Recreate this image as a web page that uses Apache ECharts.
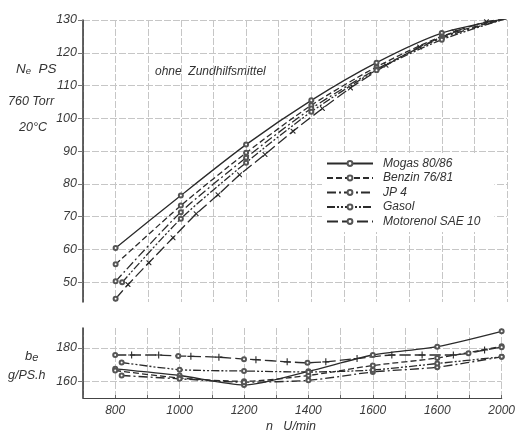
<!DOCTYPE html>
<html>
<head>
<meta charset="utf-8">
<script src="https://cdn.jsdelivr.net/npm/echarts@6/dist/echarts.min.js"></script>
<style>
  html, body { margin: 0; padding: 0; background: #fff; }
  #chart { width: 518px; height: 430px; }
</style>
</head>
<body>
<div id="chart"></div>
<script>
// --- data ---
const seriesNames = ['Mogas 80/86', 'Benzin 76/81', 'JP 4', 'Gasol', 'Motorenol SAE 10']

// upper panel: effective power Ne (PS)
const rpmUpper = [800, 1000, 1200, 1400, 1600, 1800, 2000]
const mogasNe = [60.5, 76.5, 92, 105.5, 117, 126, 130.5]
const benzinNe = [55.5, 73.4, 89.5, 104, 115.7, 125, 130.5]
const jp4Ne = [50.3, 71.4, 88, 103, 115, 124.5, 130.5]
const gasolRpmUpper = [820, 1000, 1200, 1400, 1600, 1800, 2000]
const gasolNe = [50, 69.4, 86.5, 102, 114.7, 124, 130.5]
const motorRpmUpper = [800, 838, 902, 976, 1047, 1114, 1180, 1258, 1344, 1434, 1520, 1629, 1732, 1838, 1937, 2000]
const motorNe = [45, 49.3, 56, 63.6, 70.9, 76.7, 82.8, 89, 96.1, 103, 109.3, 116.2, 121.8, 126.4, 129.5, 130.5]

// lower panel: specific consumption be (g/PS h)
const rpmLower = [800, 1000, 1200, 1400, 1600, 1800, 2000]
const mogasBe = [167.5, 163.5, 157.8, 166, 175.8, 180.8, 190]
const benzinBe = [166.5, 162, 160, 163.5, 169.5, 174, 181]
const jp4RpmLower = [820, 1000, 1200, 1400, 1600, 1800, 2000]
const jp4Be = [163.5, 161.5, 159.5, 160.6, 165.6, 168.5, 174.7]
const gasolBe = [171.3, 167, 166.2, 165.6, 166.8, 170.7, 174.7]
const motorRpmLower = [800, 851, 935, 996, 1035, 1122, 1200, 1237, 1334, 1397, 1454, 1551, 1659, 1753, 1850, 1897, 1947, 2000]
const motorBe = [175.8, 175.8, 175.8, 175.2, 175, 174.5, 173.3, 173, 171.7, 171.1, 171.7, 173.7, 175.8, 175.8, 175.8, 176.8, 178.8, 180.5]
const motorCircleRpm = [800, 996, 1200, 1397, 1897, 2000]

// tick labels
const upperTicks = [50, 60, 70, 80, 90, 100, 110, 120, 130]
const lowerTicks = [160, 180]
const xTickValues = [800, 1000, 1200, 1400, 1600, 1800, 2000]
const xTickLabels = ['800', '1000', '1200', '1400', '1600', '1600', '2000']

const ink = '#2b2b2b'
const gridColor = '#c6c6c6'
const font = 'Liberation Sans'

const dashes = {
  'Mogas 80/86': 'solid',
  'Benzin 76/81': [6, 3],
  'JP 4': [9, 3, 2, 3],
  'Gasol': [8, 2, 2, 2, 2, 2],
  'Motorenol SAE 10': [11, 4]
}

// small x (upper panel) and + (lower panel) markers
const crossPath = 'path://M0,0L1.6,0L5,3.4L8.4,0L10,0L10,1.6L6.6,5L10,8.4L10,10L8.4,10L5,6.6L1.6,10L0,10L0,8.4L3.4,5L0,1.6Z'
const plusPath = 'path://M4.2,0H5.8V4.2H10V5.8H5.8V10H4.2V5.8H0V4.2H4.2Z'

function pairs(xs, ys) {
  return xs.map((x, i) => [x, ys[i]])
}

function lineSeries(name, data, gridIdx, extra) {
  return Object.assign({
    name,
    type: 'line',
    xAxisIndex: gridIdx,
    yAxisIndex: gridIdx,
    data,
    smooth: 0.25,
    symbol: 'emptyCircle',
    symbolSize: 4,
    showAllSymbol: true,
    lineStyle: { color: ink, width: 1.3, type: dashes[name] },
    itemStyle: { color: '#555', borderWidth: 0.8 },
    emphasis: { disabled: true }
  }, extra || {})
}

const motorUpperData = pairs(motorRpmUpper, motorNe).map((p, i, arr) =>
  (i === 0 || i === arr.length - 1)
    ? p
    : { value: p, symbol: crossPath, symbolSize: 5, itemStyle: { color: ink } }
)
const motorLowerData = pairs(motorRpmLower, motorBe).map((p) =>
  motorCircleRpm.includes(p[0])
    ? p
    : { value: p, symbol: plusPath, symbolSize: 7, itemStyle: { color: ink } }
)

const chart = echarts.init(document.getElementById('chart'))

const xAxisBase = {
  type: 'value',
  min: 700,
  max: 2000,
  interval: 100,
  splitLine: { show: true, lineStyle: { color: gridColor, width: 1, type: [7, 2] } }
}

const labelStyle = {
  color: '#3a3a3a',
  fontFamily: font,
  fontStyle: 'italic',
  fontSize: 12.5
}

const option = {
  backgroundColor: '#fff',
  animation: false,
  grid: [
    { left: 83, right: 11, top: 20, height: 282 },
    { left: 83, right: 11, top: 328, height: 70 }
  ],
  xAxis: [
    Object.assign({}, xAxisBase, {
      gridIndex: 0,
      axisLine: { show: false },
      axisTick: { show: false },
      axisLabel: { show: false }
    }),
    Object.assign({}, xAxisBase, {
      gridIndex: 1,
      axisLine: { show: true, lineStyle: { color: '#444', width: 1.2 } },
      axisTick: { show: true, inside: true, length: 3, lineStyle: { color: '#666' } },
      axisLabel: Object.assign({}, labelStyle, {
        margin: 7,
        fontSize: 12,
        formatter: (v) => {
          const i = xTickValues.indexOf(v)
          return i >= 0 ? xTickLabels[i] : ''
        }
      })
    })
  ],
  yAxis: [
    {
      type: 'value',
      gridIndex: 0,
      min: 44,
      max: 130,
      axisLine: { show: true, lineStyle: { color: '#333', width: 1.5 } },
      axisTick: { show: true, length: 5, customValues: upperTicks, lineStyle: { color: '#777' } },
      axisLabel: Object.assign({}, labelStyle, { customValues: upperTicks, margin: 6 }),
      splitLine: { show: true, lineStyle: { color: gridColor, width: 1, type: [7, 2] } }
    },
    {
      type: 'value',
      gridIndex: 1,
      min: 150,
      max: 192,
      axisLine: { show: true, lineStyle: { color: '#333', width: 1.5 } },
      axisTick: { show: true, length: 5, customValues: lowerTicks, lineStyle: { color: '#777' } },
      axisLabel: Object.assign({}, labelStyle, { customValues: lowerTicks, margin: 6 }),
      splitLine: { show: true, lineStyle: { color: gridColor, width: 1, type: [7, 2] } }
    }
  ],
  legend: {
    data: seriesNames,
    orient: 'vertical',
    left: 322,
    top: 153,
    itemWidth: 46,
    itemHeight: 6,
    itemGap: 1.5,
    padding: [4, 14, 4, 4],
    backgroundColor: '#fff',
    selectedMode: false,
    textStyle: { color: '#333', fontFamily: font, fontStyle: 'italic', fontSize: 12, lineHeight: 13, padding: [0, 0, 0, 5] }
  },
  graphic: [
    {
      type: 'text', left: 16, top: 62,
      style: {
        text: '{n|N}{s|e}{n|  PS}',
        rich: {
          n: { fontFamily: font, fontStyle: 'italic', fontSize: 13.5, fill: '#333' },
          s: { fontFamily: font, fontStyle: 'italic', fontSize: 9.5, fill: '#333', padding: [5, 0, 0, 0] }
        }
      }
    },
    { type: 'text', left: 8, top: 95, style: { text: '760 Torr', fontFamily: font, fontStyle: 'italic', fontSize: 12.5, fill: '#333' } },
    { type: 'text', left: 19, top: 121, style: { text: '20°C', fontFamily: font, fontStyle: 'italic', fontSize: 12.5, fill: '#333' } },
    { type: 'text', left: 155, top: 66, style: { text: 'ohne  Zundhilfsmittel', fontFamily: font, fontStyle: 'italic', fontSize: 12, fill: '#333' } },
    {
      type: 'text', left: 25, top: 350,
      style: {
        text: '{n|b}{s|e}',
        rich: {
          n: { fontFamily: font, fontStyle: 'italic', fontSize: 13, fill: '#333' },
          s: { fontFamily: font, fontStyle: 'italic', fontSize: 11, fill: '#333', padding: [3, 0, 0, 0] }
        }
      }
    },
    { type: 'text', left: 8, top: 369, style: { text: 'g/PS.h', fontFamily: font, fontStyle: 'italic', fontSize: 12.5, fill: '#333' } },
    { type: 'text', left: 266, top: 420, style: { text: 'n   U/min', fontFamily: font, fontStyle: 'italic', fontSize: 12.5, fill: '#333' } }
  ],
  series: [
    lineSeries('Mogas 80/86', pairs(rpmUpper, mogasNe), 0),
    lineSeries('Benzin 76/81', pairs(rpmUpper, benzinNe), 0),
    lineSeries('JP 4', pairs(rpmUpper, jp4Ne), 0),
    lineSeries('Gasol', pairs(gasolRpmUpper, gasolNe), 0),
    lineSeries('Motorenol SAE 10', motorUpperData, 0, { smooth: 0.15 }),
    lineSeries('Mogas 80/86', pairs(rpmLower, mogasBe), 1),
    lineSeries('Benzin 76/81', pairs(rpmLower, benzinBe), 1),
    lineSeries('JP 4', pairs(jp4RpmLower, jp4Be), 1),
    lineSeries('Gasol', pairs(jp4RpmLower, gasolBe), 1),
    lineSeries('Motorenol SAE 10', motorLowerData, 1, { smooth: 0.15 })
  ]
}

chart.setOption(option)
</script>
</body>
</html>
